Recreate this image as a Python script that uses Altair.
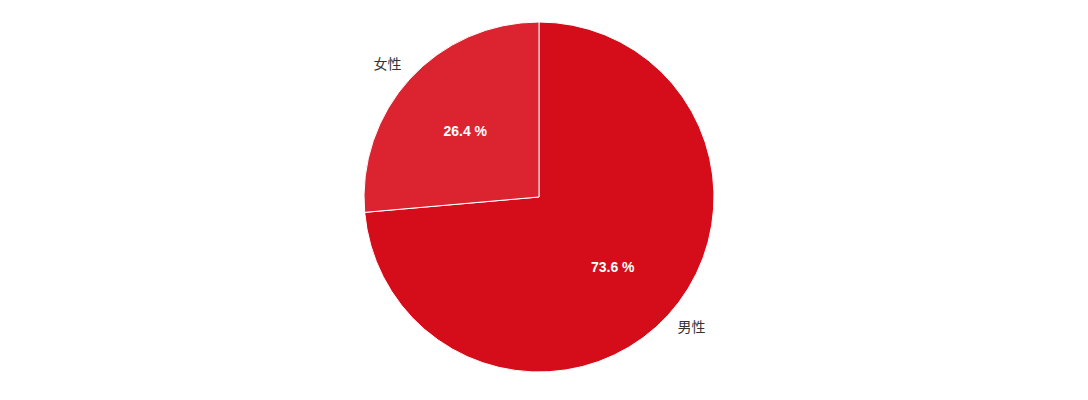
import altair as alt
import pandas as pd

categories = ["男性", "女性"]
values = [73.6, 26.4]
pct_labels = ["73.6 %", "26.4 %"]
colors = ["#D50C19", "#DC2431"]

df = pd.DataFrame({"cat": categories, "val": values, "pct": pct_labels, "ord": [0, 1]})

FONT = "'Liberation Sans', Arial, 'Noto Sans CJK SC'"

base = alt.Chart(df).encode(
    theta=alt.Theta("val:Q", stack=True),
    order=alt.Order("ord:Q"),
)

pie = base.mark_arc(outerRadius=175, stroke="white", strokeWidth=1).encode(
    color=alt.Color("cat:N", scale=alt.Scale(domain=categories, range=colors), legend=None)
)

inner = base.mark_text(radius=100, dy=3, fontSize=14, fontWeight="bold", color="white",
                       font=FONT).encode(text="pct:N")

outer_m = base.mark_text(radius=200, dx=5, dy=-4, fontSize=14, color="#333333",
                         font=FONT).encode(text="cat:N", opacity=alt.condition(alt.datum.ord == 0, alt.value(1), alt.value(0)))
outer_f = base.mark_text(radius=200, dx=-4, dy=3, fontSize=14, color="#333333",
                         font=FONT).encode(text="cat:N", opacity=alt.condition(alt.datum.ord == 1, alt.value(1), alt.value(0)))

chart = (pie + inner + outer_m + outer_f).properties(width=1062, height=378, padding=0).configure_view(stroke=None)

chart.save("out.html", embed_options={"renderer": "svg", "actions": False})
